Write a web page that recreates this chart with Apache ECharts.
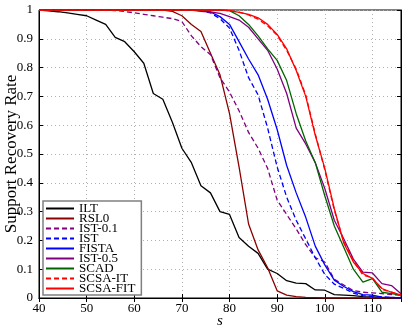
<!DOCTYPE html>
<html><head><meta charset="utf-8">
<script src="https://cdn.jsdelivr.net/npm/echarts@6/dist/echarts.min.js"></script>
<style>html,body{margin:0;padding:0;background:#fff}#c{width:407px;height:327px}</style>
</head><body><div id="c"></div>
<script>
var sVals = [40,42,44,46,48,50,52,54,56,58,60,62,64,66,68,70,72,74,76,78,80,82,84,86,88,90,92,94,96,98,100,102,104,106,108,110,112,114,116];
var xTicks = [40,50,60,70,80,90,100,110];
var yTicks = [0,0.1,0.2,0.3,0.4,0.5,0.6,0.7,0.8,0.9,1];
var ILT = [1.0,0.997,0.994,0.99,0.985,0.98,0.965,0.95,0.905,0.89,0.855,0.815,0.71,0.69,0.61,0.52,0.47,0.39,0.365,0.30,0.29,0.21,0.18,0.155,0.10,0.085,0.06,0.052,0.05,0.028,0.027,0.012,0.01,0.008,0.005,0.004,0.002,0.001,0];
var RSL0 = [1,1,1,1,1,1,1,1,1,1,1,1,1,1,0.995,0.98,0.95,0.925,0.85,0.775,0.64,0.455,0.257,0.167,0.105,0.025,0.01,0.005,0.002,0.001,0,0,0,0,0,0,0,0,0];
var IST01 = [1,1,1,1,1,1,1,1,0.998,0.995,0.99,0.985,0.98,0.975,0.97,0.96,0.91,0.873,0.845,0.765,0.715,0.65,0.575,0.52,0.45,0.34,0.29,0.24,0.185,0.14,0.125,0.065,0.045,0.026,0.02,0.018,0.015,0.012,0.01];
var IST = [1,1,1,1,1,1,1,1,1,1,1,1,1,1,1,1,1,0.998,0.99,0.97,0.937,0.86,0.765,0.705,0.59,0.455,0.35,0.27,0.205,0.14,0.082,0.048,0.033,0.017,0.008,0.006,0.004,0.002,0];
var FISTA = [1,1,1,1,1,1,1,1,1,1,1,1,1,1,1,1,1,0.998,0.993,0.977,0.95,0.89,0.83,0.775,0.69,0.585,0.46,0.365,0.28,0.18,0.115,0.062,0.04,0.022,0.012,0.01,0.003,0.002,0];
var IST05 = [1,1,1,1,1,1,1,1,1,1,1,1,1,1,1,1,1,0.995,0.993,0.988,0.977,0.965,0.94,0.90,0.86,0.795,0.71,0.59,0.535,0.47,0.38,0.27,0.205,0.135,0.09,0.087,0.05,0.043,0.015];
var SCAD = [1,1,1,1,1,1,1,1,1,1,1,1,1,1,1,1,1,1,1,1,0.998,0.98,0.95,0.91,0.865,0.825,0.755,0.64,0.545,0.47,0.355,0.25,0.175,0.1,0.055,0.067,0.02,0.015,0.01];
var SCSAIT = [1,1,1,1,1,1,1,1,1,1,1,1,1,1,1,1,1,1,1,1,0.998,0.993,0.983,0.968,0.945,0.912,0.86,0.795,0.705,0.57,0.445,0.305,0.195,0.13,0.08,0.07,0.03,0.02,0.01];
var SCSAFIT = [1,1,1,1,1,1,1,1,1,1,1,1,1,1,1,1,1,1,1,1,0.998,0.992,0.985,0.973,0.95,0.915,0.865,0.79,0.70,0.565,0.45,0.31,0.19,0.125,0.085,0.068,0.033,0.02,0.01];

var names = ['ILT','RSL0','IST-0.1','IST','FISTA','IST-0.5','SCAD','SCSA-IT','SCSA-FIT'];
var vals = [ILT,RSL0,IST01,IST,FISTA,IST05,SCAD,SCSAIT,SCSAFIT];
var colors = ['#000000','#8b0000','#800080','#0000ff','#0000ff','#800080','#006400','#ff0000','#ff0000'];
var dashed = [false,false,true,true,false,false,false,true,false];

var FONT = 'Liberation Serif';
var series = names.map(function(n,i){
  return {
    name: n, type: 'line', showSymbol: false, symbol: 'none',
    data: sVals.map(function(s,j){ return [s, vals[i][j]]; }),
    lineStyle: { color: colors[i], width: 1.3, type: dashed[i] ? [5,3] : 'solid' },
    itemStyle: { color: colors[i] },
    animation: false, z: 3
  };
});

var chart = echarts.init(document.getElementById('c'));
chart.setOption({
  animation: false,
  grid: { left: 39, right: 6, top: 10, bottom: 29, show: true, borderColor: '#000', borderWidth: 1, containLabel: false, outerBoundsMode: 'none' },
  legend: {
    orient: 'vertical', left: 43, top: 201,
    itemWidth: 28, itemHeight: 10, itemGap: -3,
    padding: [1, 6, 0, 2],
    borderColor: '#808080', borderWidth: 1.5, backgroundColor: '#fff',
    itemStyle: { color: 'rgba(0,0,0,0)', borderWidth: 0, opacity: 0 },
    textStyle: { fontFamily: FONT, fontSize: 13, color: '#000' },
    data: names
  },
  xAxis: [{
    type: 'value', min: 40, max: 116, interval: 10,
    name: 's', nameLocation: 'middle', nameGap: 16, nameMoveOverlap: false,
    nameTextStyle: { fontFamily: FONT, fontSize: 15, fontStyle: 'italic', color: '#000' },
    axisLine: { show: true, lineStyle: { color: '#000' } },
    axisTick: { show: true, inside: true, length: 4, lineStyle: { color: '#000' } },
    axisLabel: { fontFamily: FONT, fontSize: 13, color: '#000', margin: 4, showMaxLabel: false, hideOverlap: false,
      formatter: function(v){ return xTicks.indexOf(v) >= 0 ? String(v) : ''; } },
    splitLine: { show: true, lineStyle: { color: '#b0b0b0', type: [1,3], width: 1 } }
  },{
    type: 'value', min: 40, max: 116, interval: 10, position: 'top',
    axisLine: { show: true, lineStyle: { color: '#000' } },
    axisTick: { show: true, inside: true, length: 4, lineStyle: { color: '#000' } },
    axisLabel: { show: false }, splitLine: { show: false }
  }],
  yAxis: [{
    type: 'value', min: 0, max: 1, interval: 0.1,
    name: 'Support Recovery Rate', nameLocation: 'middle', nameGap: 19, nameMoveOverlap: false,
    nameTextStyle: { fontFamily: FONT, fontSize: 17, color: '#000' },
    axisLine: { show: true, lineStyle: { color: '#000' } },
    axisTick: { show: true, inside: true, length: 4, lineStyle: { color: '#000' } },
    axisLabel: { fontFamily: FONT, fontSize: 13, color: '#000', margin: 6, hideOverlap: false,
      formatter: function(v){ var r = Math.round(v*10)/10; return yTicks.indexOf(r) >= 0 ? String(r) : ''; } },
    splitLine: { show: true, lineStyle: { color: '#b0b0b0', type: [1,3], width: 1 } }
  },{
    type: 'value', min: 0, max: 1, interval: 0.1, position: 'right',
    axisLine: { show: true, lineStyle: { color: '#000' } },
    axisTick: { show: true, inside: true, length: 4, lineStyle: { color: '#000' } },
    axisLabel: { show: false }, splitLine: { show: false }
  }],
  series: series
});
</script></body></html>
